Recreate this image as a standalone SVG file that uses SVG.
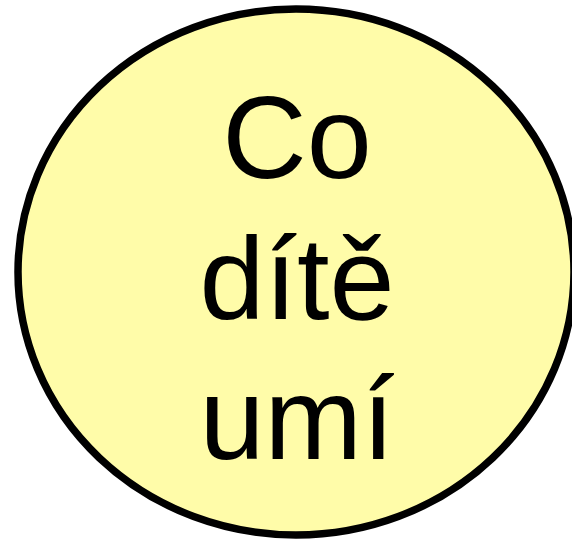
<svg xmlns="http://www.w3.org/2000/svg" width="572" height="540" viewBox="0 0 572 540">
<style>
.node{fill:#FFFCA9;stroke:#000;stroke-width:7.5}
.lbl{font-family:"Liberation Sans",Arial,sans-serif;font-size:117px;fill:#000;text-anchor:middle}
</style>
<rect width="572" height="540" fill="#fff"/>
<g id="connectors"></g>
<g id="node-co-dite-umi">
<ellipse class="node" cx="296" cy="272" rx="278" ry="263"/>
<text class="lbl" x="297" y="178">Co</text>
<text class="lbl" x="297" y="319">dítě</text>
<text class="lbl" x="297" y="459">umí</text>
</g>
</svg>
